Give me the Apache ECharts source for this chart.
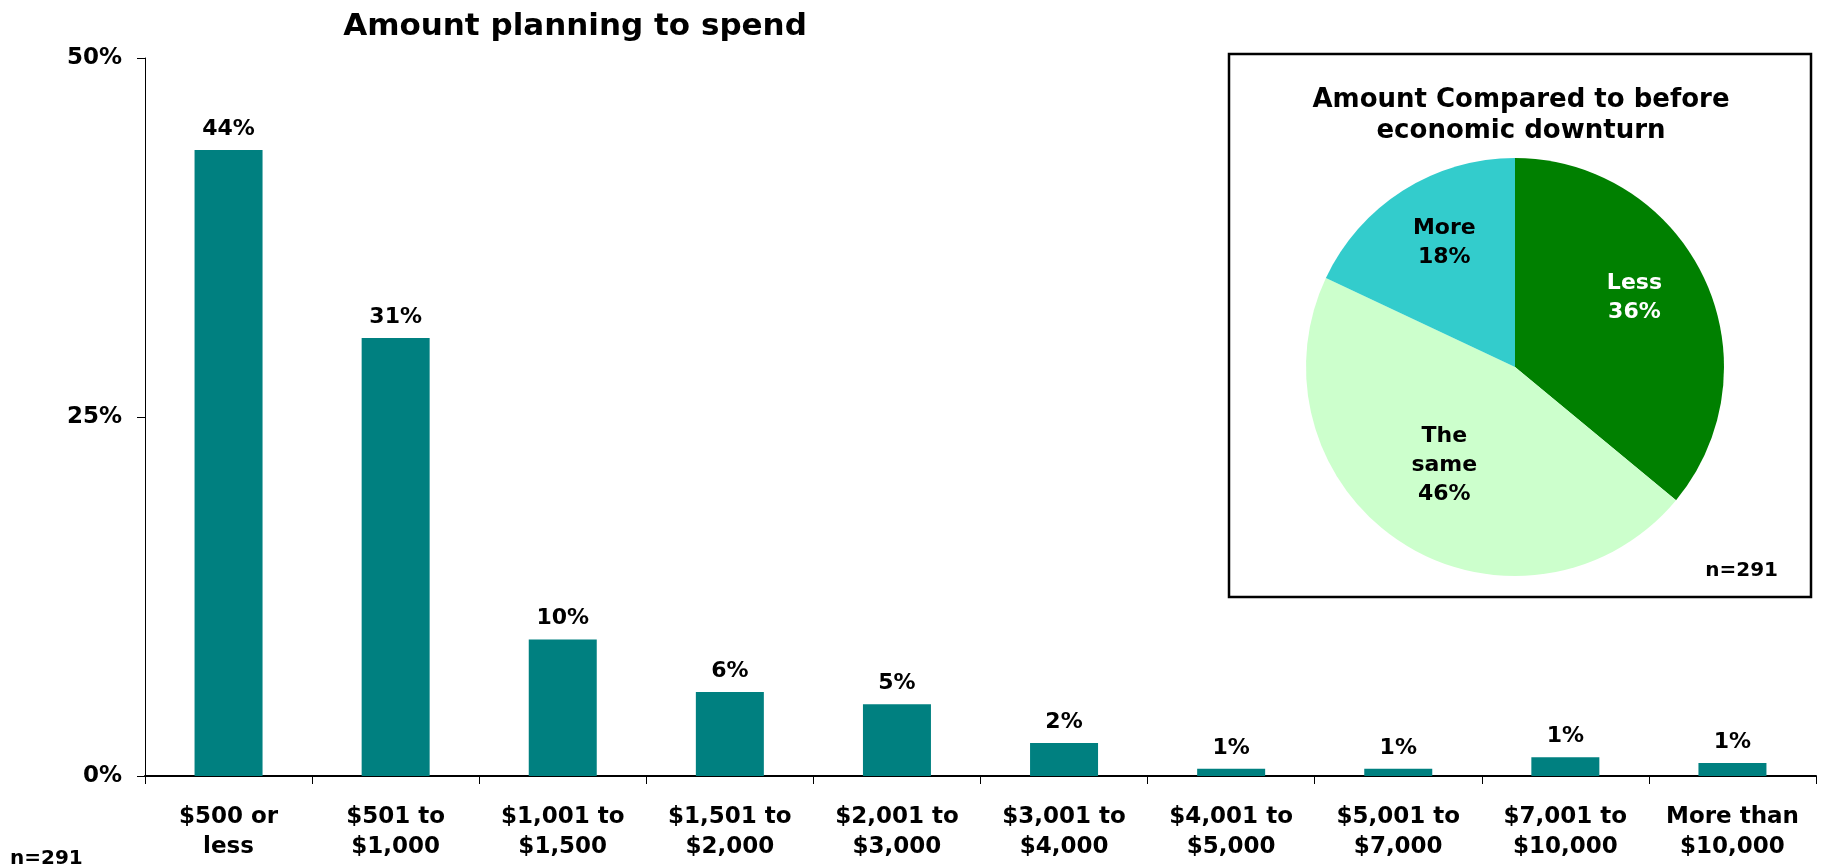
<!DOCTYPE html>
<html>
<head>
<meta charset="utf-8">
<script src="https://cdn.jsdelivr.net/npm/echarts@6/dist/echarts.min.js"></script>
<style>
html,body{margin:0;padding:0;background:#fff;}
#chart{width:1824px;height:866px;}
</style>
</head>
<body>
<div id="chart"></div>
<script>
var categories = ['$500 or\nless', '$501 to\n$1,000', '$1,001 to\n$1,500', '$1,501 to\n$2,000', '$2,001 to\n$3,000', '$3,001 to\n$4,000', '$4,001 to\n$5,000', '$5,001 to\n$7,000', '$7,001 to\n$10,000', 'More than\n$10,000'];
var spendValues = [43.6, 30.5, 9.5, 5.85, 5.0, 2.3, 0.5, 0.5, 1.3, 0.9];
var spendLabels = ['44%', '31%', '10%', '6%', '5%', '2%', '1%', '1%', '1%', '1%'];
var yTicks = [0, 25, 50];

var pieNames = ['Less', 'The same', 'More'];
var pieValues = [36, 46, 18];
var pieColors = ['#008000', '#CCFFCC', '#33CCCC'];
var pieLabelColors = ['#ffffff', '#000000', '#000000'];

var FONT = 'DejaVu Sans';
var chart = echarts.init(document.getElementById('chart'));

var pieData = pieNames.map(function (n, i) {
  return { name: n, value: pieValues[i], itemStyle: { color: pieColors[i] } };
});
var pieLabelData = pieNames.map(function (n, i) {
  return { name: n, value: pieValues[i], label: { color: pieLabelColors[i] } };
});

chart.setOption({
  animation: false,
  backgroundColor: '#ffffff',
  title: [{
    text: 'Amount planning to spend',
    left: 570, top: 6, textAlign: 'center',
    textStyle: { fontFamily: FONT, fontWeight: 'bold', fontSize: 31, color: '#000' }
  }, {
    text: 'Amount Compared to before\neconomic downturn',
    left: 1516, top: 80, textAlign: 'center',
    textStyle: { fontFamily: FONT, fontWeight: 'bold', fontSize: 26, lineHeight: 31, color: '#000' }
  }],
  graphic: [{
    type: 'rect', z: 0,
    shape: { x: 1229, y: 54, width: 582, height: 543 },
    style: { fill: '#ffffff', stroke: '#000000', lineWidth: 2.5 }
  }, {
    type: 'text', z: 10, right: 1824 - 1778, top: 561,
    style: { text: 'n=291', font: 'bold 20px "DejaVu Sans"', fill: '#000' }
  }, {
    type: 'text', z: 10, left: 10, top: 849,
    style: { text: 'n=291', font: 'bold 20px "DejaVu Sans"', fill: '#000' }
  }],
  grid: { left: 145, right: 8, top: 58, bottom: 90, containLabel: false },
  xAxis: {
    type: 'category',
    data: categories,
    axisLine: { show: true, lineStyle: { color: '#000', width: 2 } },
    axisTick: { show: true, length: 8, lineStyle: { color: '#000' } },
    axisLabel: {
      interval: 0, margin: 26, color: '#000',
      fontFamily: FONT, fontWeight: 'bold', fontSize: 23, lineHeight: 30
    },
    splitLine: { show: false }
  },
  yAxis: {
    type: 'value',
    min: yTicks[0], max: yTicks[yTicks.length - 1], interval: 25,
    axisLine: { show: true, lineStyle: { color: '#000', width: 1 } },
    axisTick: { show: true, length: 8, lineStyle: { color: '#000' } },
    axisLabel: {
      margin: 23, color: '#000', fontFamily: FONT, fontWeight: 'bold', fontSize: 23,
      padding: [6, 0, 0, 0],
      formatter: '{value}%'
    },
    splitLine: { show: false }
  },
  series: [{
    type: 'bar',
    data: spendValues,
    barWidth: 68,
    itemStyle: { color: '#008080' },
    label: {
      show: true, position: 'top', distance: 10,
      color: '#000', fontFamily: FONT, fontWeight: 'bold', fontSize: 22,
      formatter: function (p) { return spendLabels[p.dataIndex]; }
    },
    z: 2
  }, {
    type: 'pie',
    center: [1515, 367],
    radius: [0, 209],
    startAngle: 90,
    clockwise: true,
    data: pieData,
    label: { show: false },
    labelLine: { show: false },
    silent: true,
    z: 3
  }, {
    type: 'pie',
    center: [1515, 367],
    radius: [49, 209],
    startAngle: 90,
    clockwise: true,
    data: pieLabelData,
    itemStyle: { color: 'rgba(0,0,0,0)' },
    label: {
      show: true, position: 'inside', offset: [0, -13],
      fontFamily: FONT, fontWeight: 'bold', fontSize: 22, lineHeight: 29,
      formatter: function (p) { return p.name.replace(' ', '\n') + '\n' + p.value + '%'; }
    },
    labelLine: { show: false },
    silent: true,
    z: 4
  }]
});
</script>
</body>
</html>
